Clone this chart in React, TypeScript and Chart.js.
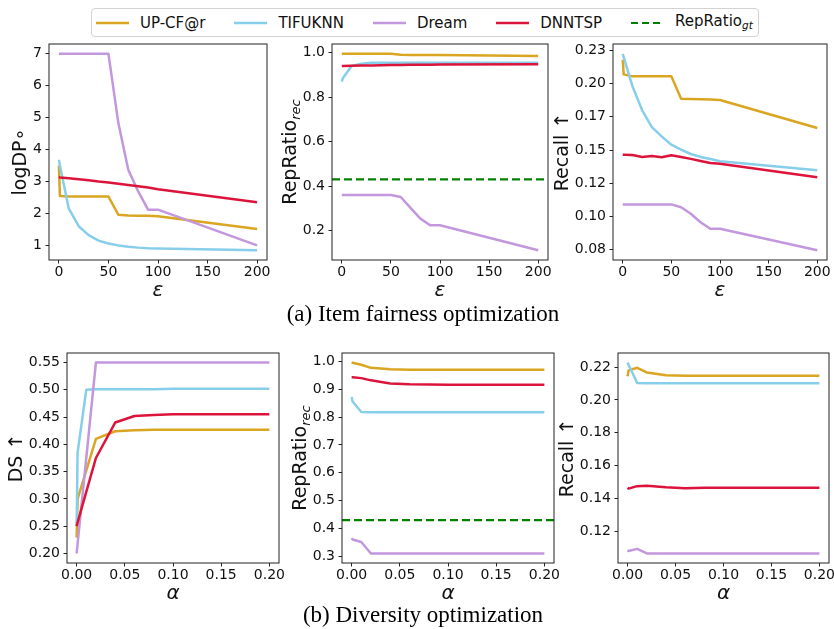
import React, { useEffect, useRef } from 'react';
import { Chart, registerables } from 'chart.js';

Chart.register(...registerables);

const FONT = "'DejaVu Sans', 'Noto Sans', sans-serif";
Chart.defaults.font.family = FONT;

// ---------- data ----------
const SERIES = ['UP-CF@r', 'TIFUKNN', 'Dream', 'DNNTSP'];
const COLORS = ['#DAA520', '#87CEEB', '#C397DE', '#DC143C'];
const GT_COLOR = '#008000';
const REP_RATIO_GT = 0.43;

// epsilon (item fairness optimization)
const epsX = [0, 1, 10, 20, 30, 40, 50, 60, 70, 80, 90, 100, 200];
const fairLogDP_upcf = [3.5, 2.55, 2.53, 2.53, 2.53, 2.53, 2.53, 1.96, 1.94, 1.93, 1.93, 1.91, 1.51];
const fairLogDP_tifu = [3.68, 3.5, 2.15, 1.6, 1.32, 1.15, 1.06, 1.0, 0.96, 0.93, 0.91, 0.9, 0.85];
const fairLogDP_dream = [7.0, 7.0, 7.0, 7.0, 7.0, 7.0, 7.0, 4.83, 3.37, 2.69, 2.12, 2.12, 1.0];
const fairLogDP_dnntsp = [3.14, 3.13, 3.1, 3.07, 3.04, 3.0, 2.97, 2.93, 2.89, 2.85, 2.81, 2.76, 2.35];

const fairRep_upcf = [0.995, 0.995, 0.995, 0.995, 0.995, 0.995, 0.995, 0.991, 0.99, 0.99, 0.99, 0.99, 0.985];
const fairRep_tifu = [0.87, 0.885, 0.94, 0.95, 0.955, 0.955, 0.955, 0.955, 0.955, 0.955, 0.955, 0.955, 0.955];
const fairRep_dream = [0.36, 0.36, 0.36, 0.36, 0.36, 0.36, 0.36, 0.351, 0.302, 0.254, 0.224, 0.224, 0.112];
const fairRep_dnntsp = [0.94, 0.94, 0.941, 0.942, 0.943, 0.944, 0.945, 0.945, 0.946, 0.946, 0.946, 0.947, 0.948];

const fairRecall_upcf = [0.218, 0.207, 0.2055, 0.2055, 0.2055, 0.2055, 0.2055, 0.1886, 0.1885, 0.1882, 0.188, 0.1877, 0.1666];
const fairRecall_tifu = [0.2225, 0.22, 0.198, 0.1799, 0.1673, 0.1603, 0.154, 0.1503, 0.147, 0.1448, 0.1432, 0.1415, 0.1347];
const fairRecall_dream = [0.109, 0.109, 0.109, 0.109, 0.109, 0.109, 0.109, 0.1069, 0.102, 0.0956, 0.0906, 0.0906, 0.0745];
const fairRecall_dnntsp = [0.1465, 0.1465, 0.1462, 0.1448, 0.1455, 0.1445, 0.146, 0.1448, 0.1433, 0.1417, 0.1402, 0.1397, 0.1294];

// alpha (diversity optimization)
const alphaX = [0, 0.001, 0.01, 0.02, 0.04, 0.06, 0.08, 0.1, 0.15, 0.2];
const divDS_upcf = [0.229, 0.3, 0.352, 0.41, 0.424, 0.426, 0.427, 0.427, 0.427, 0.427];
const divDS_tifu = [0.25, 0.385, 0.5, 0.501, 0.501, 0.501, 0.501, 0.502, 0.502, 0.502];
const divDS_dream = [0.2, 0.218, 0.375, 0.55, 0.55, 0.55, 0.55, 0.55, 0.55, 0.55];
const divDS_dnntsp = [0.25, 0.257, 0.313, 0.375, 0.44, 0.452, 0.454, 0.455, 0.455, 0.455];

const divRep_upcf = [0.996, 0.995, 0.988, 0.977, 0.972, 0.97, 0.97, 0.97, 0.97, 0.97];
const divRep_tifu = [0.872, 0.856, 0.818, 0.817, 0.817, 0.817, 0.817, 0.817, 0.817, 0.817];
const divRep_dream = [0.365, 0.36, 0.351, 0.31, 0.31, 0.31, 0.31, 0.31, 0.31, 0.31];
const divRep_dnntsp = [0.943, 0.943, 0.94, 0.932, 0.921, 0.918, 0.917, 0.916, 0.916, 0.916];

const divRecall_upcf = [0.2145, 0.218, 0.2196, 0.2168, 0.215, 0.2148, 0.2148, 0.2148, 0.2148, 0.2148];
const divRecall_tifu = [0.2228, 0.2215, 0.2103, 0.2102, 0.2102, 0.2102, 0.2102, 0.2102, 0.2102, 0.2102];
const divRecall_dream = [0.1085, 0.108, 0.1093, 0.1065, 0.1065, 0.1065, 0.1065, 0.1065, 0.1065, 0.1065];
const divRecall_dnntsp = [0.1465, 0.146, 0.1475, 0.1478, 0.1468, 0.1462, 0.1465, 0.1466, 0.1466, 0.1466];

// ticks
const epsTicks = [0, 50, 100, 150, 200];
const epsTickLabels = ['0', '50', '100', '150', '200'];
const alphaTicks = [0, 0.05, 0.1, 0.15, 0.2];
const alphaTickLabels = ['0.00', '0.05', '0.10', '0.15', '0.20'];
const logDPTicks = [1, 2, 3, 4, 5, 6, 7];
const logDPTickLabels = ['1', '2', '3', '4', '5', '6', '7'];
const repTopTicks = [0.2, 0.4, 0.6, 0.8, 1.0];
const repTopTickLabels = ['0.2', '0.4', '0.6', '0.8', '1.0'];
const recallTopTicks = [0.075, 0.1, 0.125, 0.15, 0.175, 0.2, 0.225];
const recallTopTickLabels = ['0.08', '0.10', '0.12', '0.15', '0.17', '0.20', '0.23'];
const dsTicks = [0.2, 0.25, 0.3, 0.35, 0.4, 0.45, 0.5, 0.55];
const dsTickLabels = ['0.20', '0.25', '0.30', '0.35', '0.40', '0.45', '0.50', '0.55'];
const repBotTicks = [0.3, 0.4, 0.5, 0.6, 0.7, 0.8, 0.9, 1.0];
const repBotTickLabels = ['0.3', '0.4', '0.5', '0.6', '0.7', '0.8', '0.9', '1.0'];
const recallBotTicks = [0.12, 0.14, 0.16, 0.18, 0.2, 0.22];
const recallBotTickLabels = ['0.12', '0.14', '0.16', '0.18', '0.20', '0.22'];

// ---------- layout ----------
type Part = { t: string; sub?: boolean };
type PanelDef = {
  box: { l: number; t: number; w: number; h: number };
  x: number[];
  series: number[][];
  gt: boolean;
  xTicks: number[];
  xLabels: string[];
  yTicks: number[];
  yLabels: string[];
  xTitle: string;
  yTitle: Part[];
  yShift?: number;
};

const PANELS: PanelDef[] = [
  {
    box: { l: 49, t: 44, w: 218, h: 216 },
    x: epsX,
    series: [fairLogDP_upcf, fairLogDP_tifu, fairLogDP_dream, fairLogDP_dnntsp],
    gt: false,
    xTicks: epsTicks, xLabels: epsTickLabels,
    yTicks: logDPTicks, yLabels: logDPTickLabels,
    xTitle: 'ε',
    yTitle: [{ t: 'logDP∘' }],
    yShift: 10,
  },
  {
    box: { l: 332, t: 44, w: 216, h: 216 },
    x: epsX,
    series: [fairRep_upcf, fairRep_tifu, fairRep_dream, fairRep_dnntsp],
    gt: true,
    xTicks: epsTicks, xLabels: epsTickLabels,
    yTicks: repTopTicks, yLabels: repTopTickLabels,
    xTitle: 'ε',
    yTitle: [{ t: 'RepRatio' }, { t: 'rec', sub: true }],
  },
  {
    box: { l: 613, t: 44, w: 214, h: 216 },
    x: epsX,
    series: [fairRecall_upcf, fairRecall_tifu, fairRecall_dream, fairRecall_dnntsp],
    gt: false,
    xTicks: epsTicks, xLabels: epsTickLabels,
    yTicks: recallTopTicks, yLabels: recallTopTickLabels,
    xTitle: 'ε',
    yTitle: [{ t: 'Recall ↑' }],
  },
  {
    box: { l: 67, t: 353, w: 212, h: 210 },
    x: alphaX,
    series: [divDS_upcf, divDS_tifu, divDS_dream, divDS_dnntsp],
    gt: false,
    xTicks: alphaTicks, xLabels: alphaTickLabels,
    yTicks: dsTicks, yLabels: dsTickLabels,
    xTitle: 'α',
    yTitle: [{ t: 'DS ↑' }],
  },
  {
    box: { l: 342, t: 353, w: 212, h: 210 },
    x: alphaX,
    series: [divRep_upcf, divRep_tifu, divRep_dream, divRep_dnntsp],
    gt: true,
    xTicks: alphaTicks, xLabels: alphaTickLabels,
    yTicks: repBotTicks, yLabels: repBotTickLabels,
    xTitle: 'α',
    yTitle: [{ t: 'RepRatio' }, { t: 'rec', sub: true }],
  },
  {
    box: { l: 618, t: 353, w: 211, h: 210 },
    x: alphaX,
    series: [divRecall_upcf, divRecall_tifu, divRecall_dream, divRecall_dnntsp],
    gt: false,
    xTicks: alphaTicks, xLabels: alphaTickLabels,
    yTicks: recallBotTicks, yLabels: recallBotTickLabels,
    xTitle: 'α',
    yTitle: [{ t: 'Recall ↑' }],
  },
];

const WY = 80;
const PT = 14;
const PR = 24;
const HX = 50;
const TICK_FONT = 14;
const TITLE_FONT = 19;
const TEXT_COLOR = '#111';

function makeFramePlugin(p: PanelDef) {
  return {
    id: 'frame',
    afterDatasetsDraw(chart: any) {
      const { ctx, chartArea: a } = chart;
      ctx.save();
      ctx.strokeStyle = '#222';
      ctx.lineWidth = 1;
      ctx.strokeRect(a.left, a.top, a.right - a.left, a.bottom - a.top);
      ctx.restore();
    },
    afterDraw(chart: any) {
      const { ctx, chartArea: a } = chart;
      ctx.save();
      ctx.font = `${TICK_FONT}px ${FONT}`;
      let maxW = 0;
      p.yLabels.forEach((l) => {
        maxW = Math.max(maxW, ctx.measureText(l).width);
      });
      const bx = a.left - 3.5 - 3.5 - maxW - 2.5 - TITLE_FONT * 0.24;
      const cy = (a.top + a.bottom) / 2 + (p.yShift || 0);
      ctx.translate(bx, cy);
      ctx.rotate(-Math.PI / 2);
      ctx.fillStyle = TEXT_COLOR;
      ctx.textBaseline = 'alphabetic';
      ctx.textAlign = 'left';
      const fonts = p.yTitle.map((pt) =>
        pt.sub ? `italic ${Math.round(TITLE_FONT * 0.7)}px ${FONT}` : `${TITLE_FONT}px ${FONT}`
      );
      const widths = p.yTitle.map((pt, i) => {
        ctx.font = fonts[i];
        return ctx.measureText(pt.t).width;
      });
      const total = widths.reduce((s, w) => s + w, 0);
      let x = -total / 2;
      p.yTitle.forEach((pt, i) => {
        ctx.font = fonts[i];
        ctx.fillText(pt.t, x, pt.sub ? 4 : 0);
        x += widths[i];
      });
      ctx.restore();

      ctx.save();
      ctx.fillStyle = TEXT_COLOR;
      ctx.font = `italic 20px ${FONT}`;
      ctx.textAlign = 'center';
      ctx.textBaseline = 'alphabetic';
      ctx.fillText(p.xTitle, (a.left + a.right) / 2, a.bottom + 36);
      ctx.restore();
    },
  };
}

function Panel({ p }: { p: PanelDef }) {
  const ref = useRef<HTMLCanvasElement>(null);
  const cw = WY + p.box.w + PR;
  const ch = PT + p.box.h + HX;

  useEffect(() => {
    if (!ref.current) return;
    const xMinD = Math.min(...p.x);
    const xMaxD = Math.max(...p.x);
    const xr = xMaxD - xMinD;
    const xmin = xMinD - 0.05 * xr;
    const xmax = xMaxD + 0.05 * xr;
    const allY = p.series.flat().concat(p.gt ? [REP_RATIO_GT] : []);
    const yMinD = Math.min(...allY);
    const yMaxD = Math.max(...allY);
    const yr = yMaxD - yMinD;
    const ymin = yMinD - 0.05 * yr;
    const ymax = yMaxD + 0.05 * yr;

    const datasets: any[] = p.series.map((ys, i) => ({
      label: SERIES[i],
      data: p.x.map((x, j) => ({ x, y: ys[j] })),
      borderColor: COLORS[i],
      backgroundColor: COLORS[i],
      borderWidth: 2.5,
      pointRadius: 0,
      tension: 0,
      fill: false,
      borderJoinStyle: 'round',
      order: 4 - i,
    }));
    if (p.gt) {
      datasets.push({
        label: 'RepRatio_gt',
        data: [
          { x: xmin, y: REP_RATIO_GT },
          { x: xmax, y: REP_RATIO_GT },
        ],
        borderColor: GT_COLOR,
        backgroundColor: GT_COLOR,
        borderWidth: 2.2,
        borderDash: [8, 4],
        pointRadius: 0,
        fill: false,
        order: 0,
      });
    }

    const grid = {
      drawOnChartArea: false,
      drawTicks: true,
      tickLength: 3.5,
      tickColor: '#222',
      tickWidth: 1,
    };

    const chart = new Chart(ref.current, {
      type: 'line',
      data: { datasets },
      options: {
        responsive: false,
        animation: false,
        maintainAspectRatio: false,
        layout: { padding: { top: PT, right: PR, left: 0, bottom: 0 } },
        plugins: {
          legend: { display: false },
          tooltip: { enabled: false },
        },
        events: [],
        scales: {
          x: {
            type: 'linear',
            min: xmin,
            max: xmax,
            grid,
            border: { display: false },
            title: { display: false },
            ticks: {
              padding: 0,
              color: TEXT_COLOR,
              font: { size: TICK_FONT, family: FONT },
              maxRotation: 0,
              autoSkip: false,
              callback: (_v: any, i: number) => p.xLabels[i],
            },
            afterBuildTicks: (s: any) => {
              s.ticks = p.xTicks.map((v) => ({ value: v }));
            },
            afterFit: (s: any) => {
              s.height = HX;
            },
          },
          y: {
            type: 'linear',
            min: ymin,
            max: ymax,
            grid,
            border: { display: false },
            title: { display: false },
            ticks: {
              padding: 3.5,
              color: TEXT_COLOR,
              font: { size: TICK_FONT, family: FONT },
              autoSkip: false,
              callback: (_v: any, i: number) => p.yLabels[i],
            },
            afterBuildTicks: (s: any) => {
              s.ticks = p.yTicks.map((v) => ({ value: v }));
            },
            afterFit: (s: any) => {
              s.width = WY;
            },
          },
        },
      } as any,
      plugins: [makeFramePlugin(p)],
    });
    return () => chart.destroy();
  }, [p]);

  return (
    <canvas
      ref={ref}
      width={cw}
      height={ch}
      style={{
        position: 'absolute',
        left: p.box.l - WY,
        top: p.box.t - PT,
        width: cw,
        height: ch,
      }}
    />
  );
}

function LegendLine({ color, dashed }: { color: string; dashed?: boolean }) {
  return (
    <svg width={33} height={10} style={{ display: 'block', marginRight: 11 }}>
      <line
        x1={0}
        y1={5}
        x2={33}
        y2={5}
        stroke={color}
        strokeWidth={dashed ? 2.2 : 2.5}
        strokeDasharray={dashed ? '7 4' : undefined}
      />
    </svg>
  );
}

function Legend() {
  const itemText: React.CSSProperties = {
    fontFamily: FONT,
    fontSize: 15,
    color: TEXT_COLOR,
    marginRight: 29,
    whiteSpace: 'nowrap',
    lineHeight: '18px',
  };
  return (
    <div
      style={{
        position: 'absolute',
        left: 91,
        top: 8,
        height: 29,
        boxSizing: 'border-box',
        border: '1px solid #d3d3d3',
        borderRadius: 4,
        background: '#fff',
        display: 'flex',
        alignItems: 'center',
        paddingLeft: 4,
        paddingRight: 0,
      }}
    >
      {SERIES.map((s, i) => (
        <React.Fragment key={s}>
          <LegendLine color={COLORS[i]} />
          <span style={itemText}>{s}</span>
        </React.Fragment>
      ))}
      <LegendLine color={GT_COLOR} dashed />
      <span style={{ ...itemText, marginRight: 5 }}>
        RepRatio
        <sub style={{ fontStyle: 'italic', fontSize: 10.5, verticalAlign: '-3px' }}>gt</sub>
      </span>
    </div>
  );
}

const captionStyle: React.CSSProperties = {
  position: 'absolute',
  left: 123,
  width: 600,
  textAlign: 'center',
  fontFamily: "'Liberation Serif', 'Times New Roman', serif",
  fontSize: 23,
  lineHeight: '26px',
  color: '#000',
  whiteSpace: 'nowrap',
};

export default function App() {
  return (
    <div
      style={{
        position: 'absolute',
        left: 0,
        top: 0,
        width: 834,
        height: 629,
        background: '#fff',
        overflow: 'hidden',
      }}
    >
      {PANELS.map((p, i) => (
        <Panel key={i} p={p} />
      ))}
      <Legend />
      <div style={{ ...captionStyle, top: 301 }}>(a) Item fairness optimization</div>
      <div style={{ ...captionStyle, top: 602 }}>(b) Diversity optimization</div>
    </div>
  );
}
